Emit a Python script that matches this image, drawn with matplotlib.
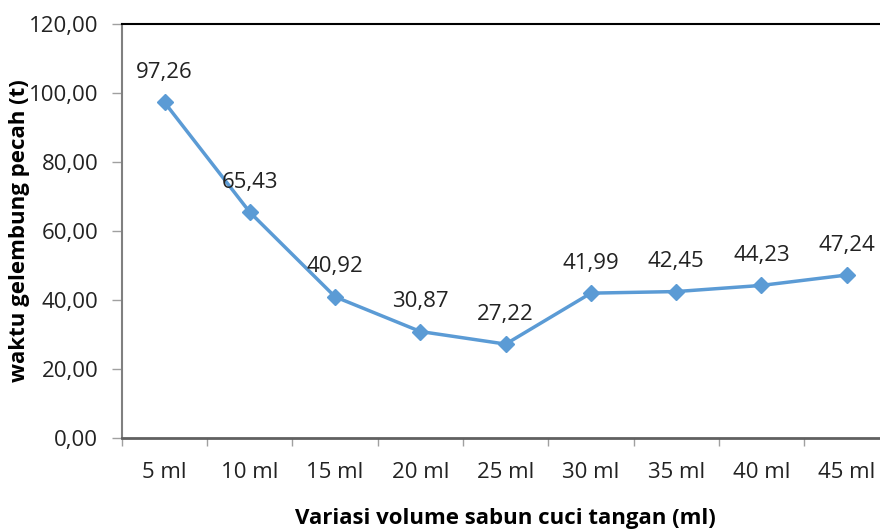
import matplotlib.pyplot as plt
from matplotlib.ticker import FuncFormatter

# === Datos ===
kategori = ["5 ml", "10 ml", "15 ml", "20 ml", "25 ml", "30 ml", "35 ml", "40 ml", "45 ml"]
waktu = [97.26, 65.43, 40.92, 30.87, 27.22, 41.99, 42.45, 44.23, 47.24]
yticks = [0, 20, 40, 60, 80, 100, 120]

plt.rcParams["font.family"] = ["Open Sans", "DejaVu Sans"]

fig = plt.figure(figsize=(8.8, 5.29), dpi=100)
ax = fig.add_axes([0.1386, 0.172, 0.872, 0.7826])

x = list(range(len(kategori)))
ax.plot(x, waktu, color="#5B9BD5", lw=2.5, marker="D", ms=8, clip_on=False)

for xi, v in zip(x, waktu):
    ax.annotate(f"{v:.2f}".replace(".", ","), (xi, v), xytext=(0, 14),
                textcoords="offset points", ha="center", va="bottom",
                fontsize=16, color="#222222")

ax.set_xlim(-0.5, len(kategori) - 0.5)
ax.set_ylim(0, 120)
ax.set_yticks(yticks)
ax.yaxis.set_major_formatter(FuncFormatter(lambda v, p: f"{v:.2f}".replace(".", ",")))
ax.set_xticks(x)
ax.set_xticklabels(kategori)
ax.set_xticks([i + 0.5 for i in range(-1, len(kategori))], minor=True)

ax.tick_params(axis="x", which="major", length=0, pad=17, labelsize=16, labelcolor="#222222")
ax.tick_params(axis="x", which="minor", length=6, width=1, color="#A0A0A0")
ax.tick_params(axis="y", length=7, width=1, color="#A0A0A0", pad=10, labelsize=16, labelcolor="#222222")

ax.spines["top"].set_color("#000000")
ax.spines["top"].set_linewidth(1.5)
ax.spines["left"].set_color("#808080")
ax.spines["left"].set_linewidth(1.5)
ax.spines["bottom"].set_color("#606060")
ax.spines["bottom"].set_linewidth(2)
ax.spines["right"].set_visible(False)

ax.set_xlabel("Variasi volume sabun cuci tangan (ml)", fontsize=16, fontweight="bold", labelpad=18)
ax.set_ylabel("waktu gelembung pecah (t)", fontsize=16, fontweight="bold", labelpad=-1)

plt.savefig("out.png", dpi=100)
